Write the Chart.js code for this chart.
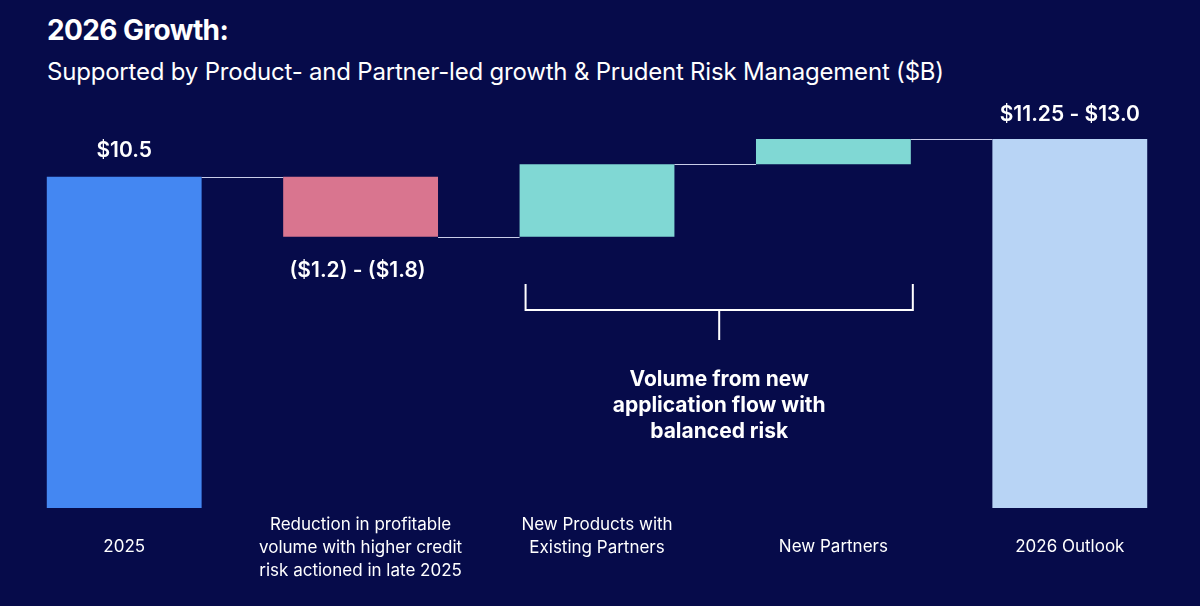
<!DOCTYPE html>
<html><head><meta charset="utf-8">
<script src="https://cdn.jsdelivr.net/npm/chart.js@4"></script>
<style>
html,body{margin:0;padding:0;background:#060b4a;font-family:Inter,"Open Sans",sans-serif;color:#fff}
#wrap{position:relative;width:1200px;height:606px}
h1{position:absolute;left:47px;top:13px;margin:0;font-size:28px;font-weight:700;letter-spacing:-0.6px}
h2{position:absolute;left:47px;top:57px;margin:0;font-size:24px;font-weight:400;letter-spacing:-0.2px}
canvas{position:absolute;left:0;top:0}
</style></head><body>
<div id="wrap">
<h1>2026 Growth:</h1>
<h2>Supported by Product- and Partner-led growth &amp; Prudent Risk Management ($B)</h2>
<canvas id="c" width="1200" height="606"></canvas>
</div>
<script>
// data
const categories = [
  ['2025'],
  ['Reduction in profitable', 'volume with higher credit', 'risk actioned in late 2025'],
  ['New Products with', 'Existing Partners'],
  ['New Partners'],
  ['2026 Outlook']
];
const barLows = [0, 8.6, 8.6, 10.9, 0];
const barHighs = [10.5, 10.5, 10.9, 11.7, 11.7];
const barColors = ['#4487f2', '#d9758f', '#80d8d4', '#80d8d4', '#b8d4f5'];
const valueLabels = ['$10.5', '($1.2) - ($1.8)', '', '', '$11.25 - $13.0'];
const bracketText = ['Volume from new', 'application flow with', 'balanced risk'];

const FONT = 'Inter, "Open Sans", sans-serif';

const overlay = {
  id: 'overlay',
  afterDatasetsDraw(chart) {
    const ctx = chart.ctx, x = chart.scales.x, y = chart.scales.y;
    const meta = chart.getDatasetMeta(0).data;
    ctx.save();
    // connector lines
    ctx.strokeStyle = '#c8cde8'; ctx.lineWidth = 1;
    const levels = [10.5, 8.6, 10.9, 11.7];
    for (let i = 0; i < 4; i++) {
      const yy = Math.round(y.getPixelForValue(levels[i])) + 0.5;
      ctx.beginPath();
      ctx.moveTo(meta[i].x + meta[i].width / 2, yy);
      ctx.lineTo(meta[i + 1].x - meta[i + 1].width / 2, yy);
      ctx.stroke();
    }
    // value labels
    ctx.fillStyle = '#fff'; ctx.textAlign = 'center'; ctx.textBaseline = 'middle';
    ctx.font = '600 21px ' + FONT;
    ctx.fillText(valueLabels[0], meta[0].x, y.getPixelForValue(barHighs[0]) - 26);
    ctx.fillText(valueLabels[1], meta[1].x - 3, y.getPixelForValue(barLows[1]) + 34);
    ctx.fillText(valueLabels[4], meta[4].x, y.getPixelForValue(barHighs[4]) - 24);
    // bracket
    const l = meta[2].x - meta[2].width / 2 + 6, r = meta[3].x + meta[3].width / 2 + 2;
    ctx.strokeStyle = '#fff'; ctx.lineWidth = 2;
    ctx.beginPath();
    ctx.moveTo(l, 284); ctx.lineTo(l, 310); ctx.lineTo(r, 310); ctx.lineTo(r, 284);
    ctx.moveTo((l + r) / 2, 310); ctx.lineTo((l + r) / 2, 340);
    ctx.stroke();
    ctx.font = '700 21px ' + FONT;
    bracketText.forEach((t, i) => ctx.fillText(t, (l + r) / 2, 380 + i * 26));
    // category labels
    ctx.font = '400 17px ' + FONT;
    categories.forEach((lines, i) => {
      const x0 = x.getPixelForValue(i);
      const top = lines.length === 1 ? 547 : 525;
      lines.forEach((t, j) => ctx.fillText(t, x0, top + j * 23));
    });
    ctx.restore();
  }
};

new Chart(document.getElementById('c'), {
  type: 'bar',
  data: {
    labels: categories.map(c => c.join(' ')),
    datasets: [{
      data: barLows.map((lo, i) => [lo, barHighs[i]]),
      backgroundColor: barColors,
      borderWidth: 0,
      barPercentage: 0.655,
      categoryPercentage: 1
    }]
  },
  options: {
    responsive: false,
    animation: false,
    layout: { padding: { left: 6, right: 12, top: 98, bottom: 98 } },
    plugins: { legend: { display: false }, tooltip: { enabled: false } },
    scales: {
      x: { display: false },
      y: { display: false, min: 0, max: 13 }
    }
  },
  plugins: [overlay]
});
</script>
</body></html>
